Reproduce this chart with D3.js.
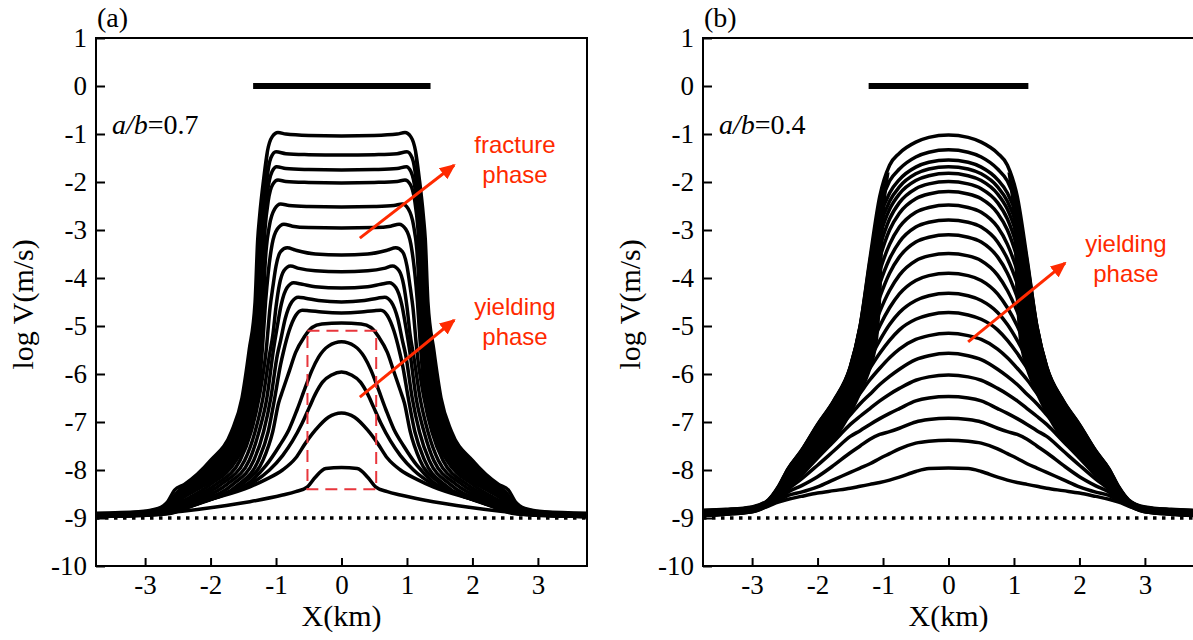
<!DOCTYPE html>
<html>
<head>
<meta charset="utf-8">
<script src="https://cdn.jsdelivr.net/npm/d3@7"></script>
<style>
  body { margin: 0; background: #fff; }
  .tick text { font-family: "Liberation Serif", "Times New Roman", serif; font-size: 27px; fill: #000; }
  .tick line { stroke: #000; stroke-width: 2; }
  .axisText { font-family: "Liberation Serif", "Times New Roman", serif; font-size: 30px; fill: #000; }
  .note { font-family: "Liberation Sans", Arial, sans-serif; font-size: 24px; fill: #ff2a00; }
</style>
</head>
<body>
<div id="chart"></div>
<script>
// Define SVG area dimensions
var svgWidth = 1193;
var svgHeight = 640;

// tick labels
var xTicks = [-3, -2, -1, 0, 1, 2, 3];
var yTicks = [1, 0, -1, -2, -3, -4, -5, -6, -7, -8, -9, -10];
var xDomain = [-3.75, 3.75];
var yDomain = [-10, 1];
var floorLevel = -9;

// panel (a), a/b = 0.7 : half profiles [X(km), log V], x >= 0 (curves are symmetric)
var curvesA = [
  [[0,-1.04],[0.5,-1.03],[0.85,-1.0],[0.97,-0.97],[1.06,-1.06],[1.13,-1.35],[1.19,-1.95],[1.25,-2.7],[1.28,-3.2],[1.32,-4.5],[1.41,-5.5],[1.52,-6.5],[1.68,-7.2],[2.0,-7.8],[2.4,-8.3],[2.55,-8.42],[2.65,-8.65],[2.8,-8.8],[3.1,-8.87],[3.75,-8.9]],
  [[0,-1.44],[0.5,-1.43],[0.85,-1.41],[1.0,-1.37],[1.08,-1.5],[1.14,-1.95],[1.19,-2.7],[1.25,-3.4],[1.29,-4.5],[1.37,-5.5],[1.48,-6.5],[1.63,-7.2],[1.93,-7.8],[2.33,-8.3],[2.5,-8.45],[2.62,-8.66],[2.78,-8.81],[3.1,-8.88],[3.75,-8.91]],
  [[0,-1.75],[0.5,-1.74],[0.85,-1.72],[0.99,-1.68],[1.06,-1.78],[1.13,-2.2],[1.18,-2.9],[1.22,-3.6],[1.26,-4.5],[1.33,-5.5],[1.43,-6.5],[1.57,-7.2],[1.85,-7.8],[2.25,-8.3],[2.47,-8.48],[2.6,-8.67],[2.76,-8.82],[3.1,-8.89],[3.75,-8.92]],
  [[0,-2.02],[0.5,-2.01],[0.85,-1.99],[0.97,-1.96],[1.05,-2.05],[1.12,-2.4],[1.17,-3.0],[1.2,-3.6],[1.23,-4.5],[1.29,-5.5],[1.38,-6.5],[1.51,-7.2],[1.77,-7.8],[2.17,-8.3],[2.44,-8.52],[2.58,-8.69],[2.74,-8.83],[3.1,-8.9],[3.75,-8.93]],
  [[0,-2.52],[0.5,-2.51],[0.8,-2.49],[0.93,-2.46],[1.02,-2.56],[1.1,-2.9],[1.15,-3.4],[1.18,-4.0],[1.2,-4.5],[1.25,-5.5],[1.33,-6.5],[1.45,-7.2],[1.69,-7.8],[2.08,-8.3],[2.4,-8.56],[2.56,-8.71],[2.72,-8.84],[3.1,-8.91],[3.75,-8.94]],
  [[0,-2.96],[0.5,-2.95],[0.75,-2.92],[0.88,-2.88],[0.98,-2.98],[1.06,-3.3],[1.12,-3.9],[1.16,-4.5],[1.21,-5.5],[1.28,-6.5],[1.4,-7.2],[1.61,-7.8],[2.0,-8.3],[2.36,-8.6],[2.54,-8.73],[2.7,-8.85],[3.1,-8.92],[3.75,-8.95]],
  [[0,-3.52],[0.4,-3.5],[0.7,-3.42],[0.83,-3.37],[0.93,-3.45],[1.0,-3.75],[1.05,-4.2],[1.09,-4.6],[1.15,-5.5],[1.26,-6.5],[1.38,-7.2],[1.55,-7.8],[1.92,-8.3],[2.33,-8.62],[2.52,-8.75],[2.68,-8.86],[3.1,-8.93],[3.75,-8.96]],
  [[0,-3.87],[0.4,-3.85],[0.65,-3.8],[0.78,-3.75],[0.88,-3.85],[0.95,-4.15],[1.0,-4.6],[1.05,-5.2],[1.1,-5.6],[1.2,-6.5],[1.32,-7.2],[1.48,-7.8],[1.84,-8.3],[2.3,-8.64],[2.5,-8.77],[2.66,-8.87],[3.1,-8.93],[3.75,-8.96]],
  [[0,-4.21],[0.4,-4.18],[0.6,-4.13],[0.73,-4.1],[0.83,-4.2],[0.92,-4.55],[0.98,-5.0],[1.04,-5.5],[1.14,-6.5],[1.26,-7.2],[1.41,-7.8],[1.75,-8.3],[2.27,-8.66],[2.48,-8.78],[2.65,-8.88],[3.1,-8.94],[3.75,-8.96]],
  [[0,-4.5],[0.35,-4.47],[0.55,-4.42],[0.66,-4.4],[0.76,-4.5],[0.86,-4.85],[0.93,-5.3],[0.98,-5.6],[1.08,-6.5],[1.19,-7.2],[1.34,-7.8],[1.66,-8.3],[2.24,-8.68],[2.46,-8.8],[2.64,-8.89],[3.1,-8.94],[3.75,-8.97]],
  [[0,-4.73],[0.3,-4.71],[0.5,-4.68],[0.6,-4.67],[0.7,-4.78],[0.8,-5.1],[0.88,-5.5],[0.93,-5.8],[1.02,-6.5],[1.12,-7.2],[1.27,-7.8],[1.57,-8.3],[2.2,-8.7],[2.44,-8.81],[2.62,-8.89],[3.1,-8.95],[3.75,-8.97]],
  [[0,-4.94],[0.3,-4.96],[0.45,-5.03],[0.57,-5.23],[0.7,-5.55],[0.8,-5.95],[0.9,-6.35],[0.96,-6.6],[1.05,-7.2],[1.2,-7.8],[1.48,-8.25],[2.15,-8.68],[2.42,-8.82],[2.6,-8.9],[3.1,-8.95],[3.75,-8.97]],
  [[0,-5.33],[0.2,-5.42],[0.35,-5.65],[0.45,-5.92],[0.55,-6.27],[0.68,-6.75],[0.8,-7.15],[0.95,-7.5],[1.15,-7.9],[1.4,-8.25],[1.8,-8.5],[2.2,-8.7],[2.6,-8.85],[3.0,-8.92],[3.75,-8.96]],
  [[0,-5.96],[0.15,-6.02],[0.29,-6.17],[0.4,-6.42],[0.49,-6.69],[0.6,-7.02],[0.75,-7.4],[0.9,-7.7],[1.1,-8.0],[1.4,-8.3],[1.8,-8.52],[2.2,-8.71],[2.6,-8.85],[3.0,-8.93],[3.75,-8.96]],
  [[0,-6.81],[0.2,-6.9],[0.4,-7.17],[0.55,-7.44],[0.7,-7.75],[0.9,-8.0],[1.16,-8.2],[1.4,-8.35],[1.92,-8.58],[2.43,-8.77],[2.69,-8.86],[3.0,-8.93],[3.75,-8.97]],
  [[0,-7.95],[0.24,-7.97],[0.4,-8.15],[0.52,-8.35],[0.7,-8.45],[0.9,-8.52],[1.4,-8.66],[1.92,-8.77],[2.43,-8.86],[2.7,-8.9],[3.2,-8.95],[3.75,-8.97]]
];

// dense flank bundle in (a): [log V, outer X, inner X]
var bundleA = [
  [-1.3, 1.13, 1.11], [-2.0, 1.2, 1.14], [-2.8, 1.26, 1.15], [-3.6, 1.3, 1.15],
  [-4.46, 1.32, 1.16], [-5.15, 1.38, 1.19], [-5.85, 1.44, 1.23], [-6.54, 1.53, 1.29],
  [-7.23, 1.69, 1.41], [-7.8, 2.0, 1.61], [-8.27, 2.38, 1.97], [-8.5, 2.56, 2.33],
  [-8.75, 2.7, 2.62], [-8.86, 2.9, 2.85]
];

// panel (b), a/b = 0.4 : one row of log V per curve, read at the X positions of xGridB (x >= 0)
var xGridB = [0, 0.3, 0.5, 0.75, 0.9, 1.05, 1.2, 1.35, 1.5, 1.75, 2.0, 2.25, 2.45, 2.6, 2.75, 3.0, 3.4, 3.75];
var curvesB = [
  [-1.02,-1.07,-1.17,-1.40,-1.65,-2.30,-3.60,-5.00,-5.85,-6.55,-7.05,-7.60,-7.97,-8.35,-8.62,-8.77,-8.82,-8.84],
  [-1.33,-1.38,-1.48,-1.73,-1.98,-2.52,-3.66,-5.01,-5.86,-6.56,-7.06,-7.61,-7.98,-8.36,-8.63,-8.78,-8.83,-8.85],
  [-1.54,-1.59,-1.69,-1.95,-2.23,-2.75,-3.74,-5.03,-5.87,-6.57,-7.07,-7.62,-7.99,-8.37,-8.63,-8.78,-8.83,-8.85],
  [-1.68,-1.73,-1.83,-2.10,-2.40,-2.93,-3.84,-5.05,-5.88,-6.58,-7.08,-7.63,-8.00,-8.38,-8.64,-8.79,-8.84,-8.86],
  [-1.82,-1.87,-1.97,-2.25,-2.57,-3.13,-3.98,-5.08,-5.89,-6.60,-7.09,-7.64,-8.01,-8.39,-8.64,-8.79,-8.84,-8.86],
  [-1.99,-2.04,-2.14,-2.43,-2.77,-3.35,-4.15,-5.14,-5.91,-6.62,-7.11,-7.66,-8.03,-8.40,-8.65,-8.80,-8.85,-8.87],
  [-2.20,-2.25,-2.35,-2.65,-3.00,-3.58,-4.35,-5.22,-5.94,-6.64,-7.13,-7.68,-8.05,-8.41,-8.65,-8.80,-8.85,-8.88],
  [-2.48,-2.53,-2.63,-2.94,-3.30,-3.85,-4.57,-5.32,-5.98,-6.68,-7.16,-7.70,-8.07,-8.42,-8.66,-8.81,-8.86,-8.88],
  [-2.79,-2.84,-2.94,-3.25,-3.60,-4.12,-4.80,-5.45,-6.03,-6.72,-7.20,-7.73,-8.09,-8.43,-8.66,-8.81,-8.86,-8.89],
  [-3.10,-3.15,-3.25,-3.56,-3.90,-4.40,-5.02,-5.60,-6.12,-6.77,-7.25,-7.76,-8.11,-8.44,-8.67,-8.82,-8.87,-8.89],
  [-3.49,-3.54,-3.64,-3.94,-4.26,-4.70,-5.25,-5.75,-6.22,-6.83,-7.30,-7.80,-8.14,-8.45,-8.67,-8.82,-8.87,-8.90],
  [-3.90,-3.95,-4.05,-4.33,-4.62,-5.00,-5.47,-5.90,-6.32,-6.90,-7.36,-7.84,-8.17,-8.47,-8.68,-8.83,-8.88,-8.90],
  [-4.32,-4.37,-4.47,-4.72,-4.97,-5.30,-5.68,-6.05,-6.43,-6.98,-7.43,-7.89,-8.20,-8.48,-8.68,-8.83,-8.88,-8.91],
  [-4.72,-4.77,-4.86,-5.08,-5.30,-5.57,-5.88,-6.20,-6.55,-7.06,-7.50,-7.94,-8.23,-8.50,-8.69,-8.84,-8.89,-8.91],
  [-5.15,-5.20,-5.28,-5.48,-5.66,-5.88,-6.12,-6.40,-6.68,-7.15,-7.58,-7.99,-8.27,-8.52,-8.70,-8.84,-8.89,-8.92],
  [-5.57,-5.62,-5.70,-5.90,-6.05,-6.22,-6.42,-6.62,-6.85,-7.25,-7.65,-8.05,-8.31,-8.54,-8.70,-8.85,-8.90,-8.92],
  [-6.02,-6.06,-6.13,-6.30,-6.42,-6.56,-6.72,-6.88,-7.05,-7.40,-7.75,-8.11,-8.35,-8.56,-8.71,-8.85,-8.90,-8.93],
  [-6.47,-6.50,-6.56,-6.72,-6.82,-6.93,-7.05,-7.18,-7.30,-7.60,-7.90,-8.19,-8.40,-8.58,-8.72,-8.86,-8.91,-8.93],
  [-6.92,-6.95,-7.00,-7.13,-7.20,-7.26,-7.36,-7.50,-7.64,-7.90,-8.14,-8.33,-8.46,-8.61,-8.73,-8.86,-8.91,-8.94],
  [-7.38,-7.40,-7.44,-7.56,-7.66,-7.76,-7.87,-7.96,-8.05,-8.20,-8.35,-8.46,-8.53,-8.64,-8.74,-8.87,-8.92,-8.94],
  [-7.96,-7.97,-8.03,-8.15,-8.21,-8.26,-8.30,-8.34,-8.38,-8.43,-8.48,-8.55,-8.61,-8.67,-8.75,-8.87,-8.92,-8.95]
];

// dense flank bundle in (b): [log V, outer X, inner X]
var bundleB = [
  [-1.8, 0.93, 0.9], [-2.4, 1.06, 0.96], [-3.4, 1.17, 1.0], [-4.5, 1.28, 1.03],
  [-5.5, 1.42, 1.1], [-6.5, 1.71, 1.36], [-7.4, 2.15, 1.75], [-8.0, 2.45, 2.18],
  [-8.4, 2.6, 2.42], [-8.7, 2.82, 2.7]
];

// barrier bars drawn at log V = 0
var barA = [-1.35, 1.36];
var barB = [-1.22, 1.22];
// dashed box in (a): X range and log V range
var boxX = [-0.52, 0.53];
var boxY = [-8.4, -5.1];

var svg = d3.select("#chart").append("svg")
  .attr("width", svgWidth)
  .attr("height", svgHeight);

var defs = svg.append("defs");
defs.append("marker")
  .attr("id", "head")
  .attr("markerUnits", "userSpaceOnUse")
  .attr("viewBox", "0 0 16 14")
  .attr("refX", 14).attr("refY", 7)
  .attr("markerWidth", 16).attr("markerHeight", 14)
  .attr("orient", "auto")
  .append("path")
  .attr("d", "M0,0 L16,7 L0,14 Z")
  .attr("fill", "#ff2a00");

var y = d3.scaleLinear().domain(yDomain).range([566, 38]);

// mirror a half profile into the full symmetric curve
function mirror(half) {
  var left = half.slice(1).map(function(p) { return [-p[0], p[1]]; }).reverse();
  return left.concat(half);
}

function drawPanel(opt) {
  var x = d3.scaleLinear().domain(xDomain).range(opt.range);
  var g = svg.append("g");
  var id = "clip" + opt.ratio;

  defs.append("clipPath").attr("id", id)
    .append("rect")
    .attr("x", opt.range[0]).attr("y", y(yDomain[1]))
    .attr("width", opt.range[1] - opt.range[0])
    .attr("height", y(yDomain[0]) - y(yDomain[1]));

  var plot = g.append("g").attr("clip-path", "url(#" + id + ")");

  // flank bundles, both sides
  [1, -1].forEach(function(s) {
    var band = d3.area()
      .y(function(d) { return y(d[0]); })
      .x0(function(d) { return x(s * d[1]); })
      .x1(function(d) { return x(s * d[2]); })
      .curve(d3.curveMonotoneY);
    plot.append("path")
      .attr("d", band(opt.bundle))
      .attr("fill", "#000");
  });

  var line = d3.line()
    .x(function(d) { return x(d[0]); })
    .y(function(d) { return y(d[1]); })
    .curve(d3.curveMonotoneX);

  plot.selectAll("path.curve")
    .data(opt.curves)
    .enter()
    .append("path")
    .attr("class", "curve")
    .attr("d", function(d) { return line(mirror(d)); })
    .attr("fill", "none")
    .attr("stroke", "#000")
    .attr("stroke-width", 3.5);

  // background level log V = -9
  plot.append("line")
    .attr("x1", x(xDomain[0])).attr("x2", x(xDomain[1]))
    .attr("y1", y(floorLevel)).attr("y2", y(floorLevel))
    .attr("stroke", "#000")
    .attr("stroke-width", 3.5)
    .attr("stroke-dasharray", "3.5 5.5");

  // barrier bar
  plot.append("line")
    .attr("x1", x(opt.bar[0])).attr("x2", x(opt.bar[1]))
    .attr("y1", y(0)).attr("y2", y(0))
    .attr("stroke", "#000")
    .attr("stroke-width", 6);

  // axes
  g.append("g")
    .attr("transform", "translate(" + opt.range[0] + ",0)")
    .call(d3.axisLeft(y).tickValues(yTicks).tickSize(-9).tickSizeOuter(0).tickPadding(9)
      .tickFormat(function(d) { return String(d); }))
    .call(function(a) { a.select(".domain").remove(); });

  g.append("g")
    .attr("transform", "translate(0," + y(yDomain[0]) + ")")
    .call(d3.axisBottom(x).tickValues(xTicks).tickSize(-8).tickSizeOuter(0).tickPadding(9)
      .tickFormat(function(d) { return String(d); }))
    .call(function(a) { a.select(".domain").remove(); });

  g.append("rect")
    .attr("x", opt.range[0]).attr("y", y(yDomain[1]))
    .attr("width", opt.range[1] - opt.range[0])
    .attr("height", y(yDomain[0]) - y(yDomain[1]))
    .attr("fill", "none")
    .attr("stroke", "#000")
    .attr("stroke-width", 2);

  // labels
  g.append("text")
    .attr("class", "axisText")
    .style("font-size", "28px")
    .attr("x", opt.range[0] + 1).attr("y", 27)
    .text(opt.tag);

  var ab = g.append("text")
    .attr("class", "axisText")
    .style("font-size", "28px")
    .attr("x", opt.range[0] + 16).attr("y", 134);
  ab.append("tspan").style("font-style", "italic").text("a/b");
  ab.append("tspan").text("=" + opt.ratio);

  g.append("text")
    .attr("class", "axisText")
    .attr("transform", "translate(" + (opt.range[0] - 63) + "," + y(-4.55) + ") rotate(-90)")
    .style("text-anchor", "middle")
    .text("log V(m/s)");

  g.append("text")
    .attr("class", "axisText")
    .attr("x", x(0)).attr("y", 626)
    .style("text-anchor", "middle")
    .text("X(km)");

  // annotations
  opt.notes.forEach(function(n) {
    g.append("line")
      .attr("x1", x(n.from[0])).attr("y1", y(n.from[1]))
      .attr("x2", x(n.to[0])).attr("y2", y(n.to[1]))
      .attr("stroke", "#ff2a00")
      .attr("stroke-width", 3)
      .attr("marker-end", "url(#head)");
    n.text.forEach(function(t, i) {
      g.append("text")
        .attr("class", "note")
        .attr("x", x(n.at[0]))
        .attr("y", y(n.at[1]) + i * 30)
        .style("text-anchor", "middle")
        .text(t);
    });
  });

  return x;
}

var xa = drawPanel({
  tag: "(a)", ratio: "0.7", range: [96, 587], curves: curvesA, bundle: bundleA, bar: barA,
  notes: [
    { from: [0.28, -3.17], to: [1.72, -1.65], at: [2.65, -1.4], text: ["fracture", "phase"] },
    { from: [0.28, -6.48], to: [1.72, -4.88], at: [2.65, -4.77], text: ["yielding", "phase"] }
  ]
});

// dashed box marking the yielding curves in (a)
svg.append("rect")
  .attr("x", xa(boxX[0])).attr("y", y(boxY[1]))
  .attr("width", xa(boxX[1]) - xa(boxX[0]))
  .attr("height", y(boxY[0]) - y(boxY[1]))
  .attr("fill", "none")
  .attr("stroke", "#e8363c")
  .attr("stroke-width", 2)
  .attr("stroke-dasharray", "12 7");

var curvesBHalf = curvesB.map(function(row) {
  return row.map(function(v, i) { return [xGridB[i], v]; });
});

drawPanel({
  tag: "(b)", ratio: "0.4", range: [703, 1194], curves: curvesBHalf, bundle: bundleB, bar: barB,
  notes: [
    { from: [0.3, -5.33], to: [1.78, -3.69], at: [2.71, -3.46], text: ["yielding", "phase"] }
  ]
});
</script>
</body>
</html>
